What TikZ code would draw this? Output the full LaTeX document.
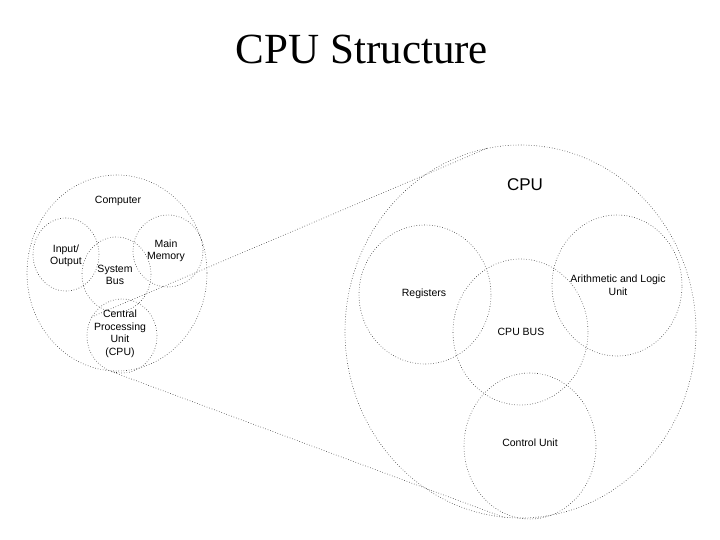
\documentclass[tikz,border=0pt]{standalone}
\usepackage{fontspec}
\setmainfont{Liberation Serif}
\setsansfont{Liberation Sans}
\usetikzlibrary{shapes.geometric}
\begin{document}
\begin{tikzpicture}[x=1pt,y=-1pt,
  ring/.style={draw=black!80,line width=0.6pt,dotted,ellipse,inner sep=0pt},
  lbl/.style={font=\sffamily\fontsize{10.5}{12.5}\selectfont,align=center,inner sep=0pt},
  link/.style={draw=black!80,line width=0.6pt,dotted}]
\path[use as bounding box] (0,0) rectangle (720,540);
% title
\node[font=\rmfamily\fontsize{43}{48}\selectfont,anchor=base,inner sep=0pt] (title) at (362,64) {CPU Structure};
% small computer diagram
\node[ring,minimum width=180pt,minimum height=196pt] (comp) at (117,273) {};
\node[ring,minimum width=66pt,minimum height=73pt] (io) at (66,254.5) {};
\node[ring,minimum width=70pt,minimum height=72pt] (mem) at (168,251) {};
\node[ring,minimum width=69pt,minimum height=75pt] (sbus) at (116.5,274.5) {};
\node[ring,minimum width=70pt,minimum height=74pt] (cpus) at (122,336) {};
\node[lbl] (tcomp) at (118,201) {Computer};
\node[lbl] (tio) at (66,256) {Input/\\Output};
\node[lbl] (tmem) at (166,251) {Main\\Memory};
\node[lbl] (tsbus) at (115,275) {System\\Bus};
\node[lbl] (tcpus) at (120,334) {Central\\Processing\\Unit\\(CPU)};
% big CPU diagram
\node[ring,minimum width=351pt,minimum height=373pt] (cpub) at (520.5,331.5) {};
\node[ring,minimum width=132pt,minimum height=139pt] (reg) at (425,294.5) {};
\node[ring,minimum width=130pt,minimum height=141pt] (alu) at (617,285.5) {};
\node[ring,minimum width=135pt,minimum height=146pt] (cbus) at (520.5,332) {};
\node[ring,minimum width=132pt,minimum height=146pt] (cu) at (530,446) {};
\node[font=\sffamily\fontsize{17}{20}\selectfont,inner sep=0pt] (tcpub) at (525,185) {CPU};
\node[lbl] (treg) at (424,294) {Registers};
\node[lbl] (talu) at (618,285) {Arithmetic and Logic\\Unit};
\node[lbl] (tcbus) at (521,332) {CPU BUS};
\node[lbl] (tcu) at (530,443) {Control Unit};
% zoom connectors
\draw[link] (cpus.148) -- (cpub.100);
\draw[link] (cpus.254) -- (cpub.265);
\end{tikzpicture}
\end{document}
